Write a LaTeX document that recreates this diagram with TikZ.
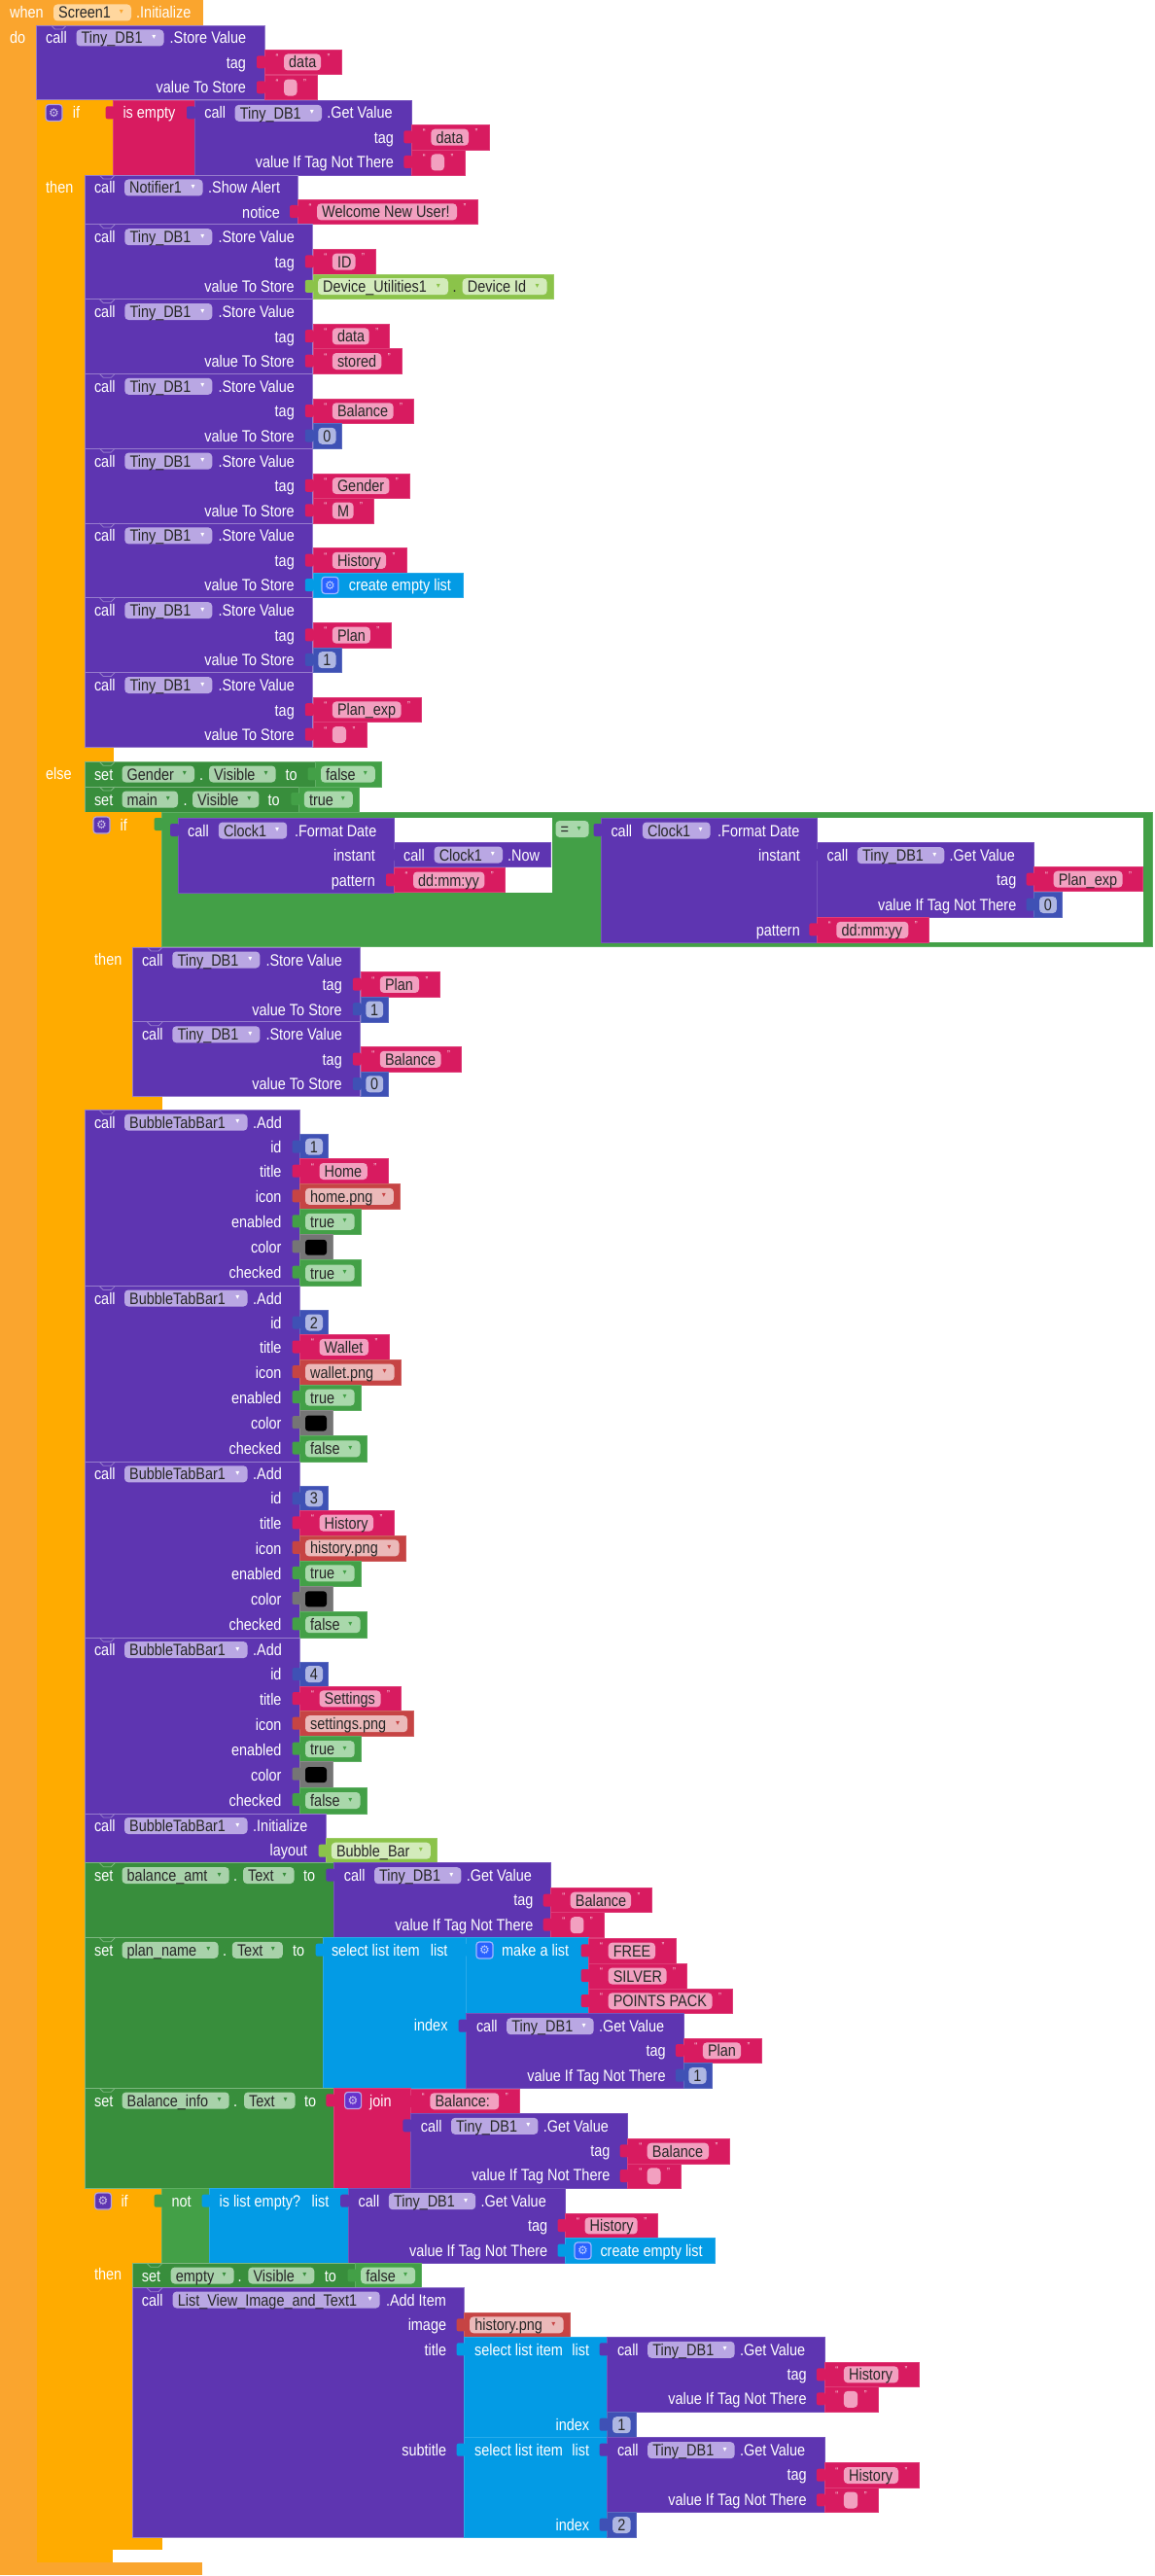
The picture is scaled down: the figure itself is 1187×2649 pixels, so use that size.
\documentclass[tikz,border=0pt]{standalone}
\usepackage{fontspec}
\setmainfont{Liberation Sans}[FakeStretch=0.86]
\newfontfamily\dvsans{DejaVu Sans}

\definecolor{evt}{HTML}{FAA52E}
\definecolor{scrf}{HTML}{FFD79E}
\definecolor{ctl}{HTML}{FFAB00}
\definecolor{cmp}{HTML}{5E35B1}
\definecolor{cmpf}{HTML}{B9A7E3}
\definecolor{txt}{HTML}{D81B60}
\definecolor{txtf}{HTML}{F2A0C0}
\definecolor{num}{HTML}{3F51B5}
\definecolor{numf}{HTML}{AEB6E2}
\definecolor{lgc}{HTML}{43A047}
\definecolor{lgcf}{HTML}{A9D8AB}
\definecolor{setg}{HTML}{388E3C}
\definecolor{setf}{HTML}{A8D2AA}
\definecolor{getg}{HTML}{8BC34A}
\definecolor{getf}{HTML}{D3EBBB}
\definecolor{lst}{HTML}{039BE5}
\definecolor{ast}{HTML}{C64444}
\definecolor{astf}{HTML}{EBB9B9}
\definecolor{clr}{HTML}{757575}
\definecolor{gearblue}{HTML}{2962FF}
\definecolor{gearpur}{HTML}{6633CC}

\newcommand{\fsz}{\fontsize{16.8}{20}\selectfont}
\tikzset{
  lbl/.style={text=white, font=\fsz, inner sep=0pt},
  fld/.style={text=black!85, font=\fsz, inner sep=0pt},
  arw/.style={font=\dvsans\fontsize{8}{8}\selectfont, inner sep=0pt},
  qt/.style={text=white!80!txt, font=\fontsize{10}{10}\selectfont, inner sep=0pt},
  gearc/.style={font=\dvsans\fontsize{12}{12}\selectfont, inner sep=0pt}
}

\newcommand{\blkS}[5]{%
  \filldraw[fill=#1, draw=white!35!#1, line width=0.8pt] (#2,#3) rectangle (#4,#5);
  \draw[white!35!#1, line width=0.8pt] ({#2+15},#3) -- ({#2+19},{#3+4}) -- ({#2+27},{#3+4}) -- ({#2+31},#3);}
\newcommand{\blkV}[5]{%
  \filldraw[fill=#1, draw=white!15!#1, line width=0.6pt] (#2,#3) rectangle (#4,#5);
  \fill[#1, rounded corners=2pt] ({#2-8},{#3+6}) rectangle ({#2+1},{#3+19});}
\newcommand{\labL}[3]{\node[lbl, anchor=base west] at (#1,{#2+6}) {#3};}
\newcommand{\labR}[3]{\node[lbl, anchor=base east] at (#1,{#2+6}) {#3};}
\newcommand{\fldB}[6]{%
  \fill[#1, rounded corners=4pt] (#3,{#5-8.5}) rectangle (#4,{#5+8.5});
  \node[fld, anchor=base west] at ({#3+5},{#5+6}) {#6};
  \node[arw, text=#2] at ({#4-10},{#5-0.5}) {▾};}
\newcommand{\txtB}[5]{%
  \blkV{txt}{#1}{#2}{#3}{#4}
  \node[qt] at ({#1+13},{#2+8}) {“};
  \node[qt] at ({#3-13},{#2+8}) {”};
  \fill[txtf, rounded corners=4pt] ({#1+20},{(#2+#4)/2-8.5}) rectangle ({#3-21},{(#2+#4)/2+8.5});
  \node[fld, anchor=base west] at ({#1+25},{(#2+#4)/2+6}) {#5};}
\newcommand{\numB}[5]{%
  \blkV{num}{#1}{#2}{#3}{#4}
  \fill[numf, rounded corners=4pt] ({#1+5.5},{(#2+#4)/2-8.5}) rectangle ({#3-5.5},{(#2+#4)/2+8.5});
  \node[fld, anchor=base] at ({(#1+#3)/2},{(#2+#4)/2+6}) {#5};}
\newcommand{\lgcB}[5]{\blkV{lgc}{#1}{#2}{#3}{#4}\fldB{lgcf}{lgc}{#1+5.5}{#3-6.5}{(#2+#4)/2}{#5}}
\newcommand{\astB}[5]{\blkV{ast}{#1}{#2}{#3}{#4}\fldB{astf}{ast}{#1+5.5}{#3-6.5}{(#2+#4)/2}{#5}}
\newcommand{\clrB}[4]{\blkV{clr}{#1}{#2}{#3}{#4}\fill[black, rounded corners=3pt] ({#1+5.5},{#2+5.5}) rectangle ({#1+27.5},{#4-5});}
\newcommand{\gearB}[3]{%
  \filldraw[fill=#1, draw=white!55!#1, line width=1.2pt, rounded corners=3pt] (#2,{#3-8.5}) rectangle ({#2+17},{#3+8.5});
  \node[gearc, text=white!70!#1] at ({#2+8.5},{#3}) {⚙};}
\newcommand{\storeB}[2]{%
  \blkS{cmp}{#1}{#2}{#1+234.5}{#2+76.8}
  \labL{#1+9.5}{#2+13}{call}
  \fldB{cmpf}{white}{#1+41}{#1+131}{#2+13}{Tiny\_DB1}
  \labL{#1+137}{#2+13}{.Store Value}
  \labR{#1+215.7}{#2+38.5}{tag}
  \labR{#1+215.7}{#2+64}{value To Store}}
\newcommand{\getB}[2]{%
  \blkV{cmp}{#1}{#2}{#1+223.3}{#2+77}
  \labL{#1+10.2}{#2+12.7}{call}
  \fldB{cmpf}{white}{#1+41.6}{#1+131}{#2+13}{Tiny\_DB1}
  \labL{#1+136.2}{#2+12.7}{.Get Value}
  \labR{#1+205.2}{#2+37.8}{tag}
  \labR{#1+205.2}{#2+63.3}{value If Tag Not There}}
\newcommand{\addB}[8]{%
  \blkS{cmp}{87.3}{#1}{308.5}{#1+180.8}
  \labL{96.8}{#1+12.5}{call}
  \fldB{cmpf}{white}{128}{254.5}{#1+12.5}{BubbleTabBar1}
  \labL{260}{#1+12.5}{.Add}
  \labR{289.7}{#1+37.5}{id}
  \labR{289.7}{#1+63}{title}
  \labR{289.7}{#1+89}{icon}
  \labR{289.7}{#1+115}{enabled}
  \labR{289.7}{#1+141}{color}
  \labR{289.7}{#1+167}{checked}
  \numB{308.5}{#1+25}{337.5}{#1+50}{#2}
  \txtB{308.5}{#1+50}{#4}{#1+75.6}{#3}
  \astB{308.5}{#1+75.6}{#6}{#1+101.6}{#5}
  \lgcB{308.5}{#1+101.6}{371.2}{#1+127.6}{true}
  \clrB{308.5}{#1+127.6}{341.8}{#1+154}
  \lgcB{308.5}{#1+154}{#8}{#1+180.8}{#7}}

\begin{document}
\begin{tikzpicture}[x=1pt,y=-1pt]
\useasboundingbox (0,0) rectangle (1187,2649);
\fill[white] (0,0) rectangle (1187,2649);

% when Screen1.Initialize
\fill[evt] (0,0) rectangle (209,26);
\fill[evt] (0,0) rectangle (37.5,2648.3);
\fill[evt] (0,2635) rectangle (208.2,2648.3);
\labL{10}{13}{when}
\fldB{scrf}{evt}{55}{135}{13}{Screen1}
\labL{140}{13}{.Initialize}
\labL{10}{38.5}{do}

\storeB{37.5}{26}
\txtB{272}{51.3}{351}{76.7}{data}
\txtB{272}{77.3}{326.5}{102.8}{}

% if / then / else
\fill[ctl] (37.5,102.8) rectangle (87.3,2635);
\fill[ctl] (37.5,102.8) rectangle (117,180);
\fill[ctl] (37.5,768.3) rectangle (117,783.3);
\fill[ctl] (37.5,2622.3) rectangle (116.3,2635);
\gearB{cmp}{47}{116}
\labL{74.6}{116}{if}
\labL{47}{192.7}{then}
\labL{47}{795}{else}

\blkV{txt}{116.7}{103.3}{200}{180}
\labL{126.3}{116}{is empty}
\getB{200}{103.3}
\txtB{423.3}{128.3}{503}{154}{data}
\txtB{423.3}{154}{478}{180}{}

\blkS{cmp}{87.3}{180}{306}{230.7}
\labL{96.8}{192.7}{call}
\fldB{cmpf}{white}{128}{208.6}{193}{Notifier1}
\labL{214}{192.7}{.Show Alert}
\labR{288}{218.3}{notice}
\txtB{306}{205}{491}{230.7}{Welcome New User!}

\storeB{87.3}{230.7}
\txtB{321.8}{256.4}{386.5}{281.9}{ID}
\blkV{getg}{321.8}{281.9}{569}{307.5}
\fldB{getf}{getg}{327}{461}{294.7}{Device\_Utilities1}
\node[fld, anchor=base] at (467.7,300.7) {.};
\fldB{getf}{getg}{475.7}{562.6}{294.7}{Device Id}

\storeB{87.3}{307.5}
\txtB{321.8}{333.2}{400.7}{358.7}{data}
\txtB{321.8}{358.7}{413.3}{384.3}{stored}

\storeB{87.3}{384.3}
\txtB{321.8}{410}{425.6}{435.5}{Balance}
\numB{321.8}{435.5}{351}{461.1}{0}

\storeB{87.3}{461.1}
\txtB{321.8}{486.8}{421.4}{512.3}{Gender}
\txtB{321.8}{512.3}{384.6}{537.9}{M}

\storeB{87.3}{537.9}
\txtB{321.8}{563.6}{418}{589.1}{History}
\blkV{lst}{321.8}{589.1}{476.5}{614.7}
\gearB{gearblue}{331}{601.9}
\labL{358.6}{601.9}{create empty list}

\storeB{87.3}{614.7}
\txtB{321.8}{640.4}{401.8}{665.9}{Plan}
\numB{321.8}{665.9}{351}{691.5}{1}

\storeB{87.3}{691.5}
\txtB{321.8}{717.2}{433.6}{742.7}{Plan\_exp}
\txtB{321.8}{742.7}{377}{768.3}{}

% else
\blkS{setg}{87.3}{783.3}{324.5}{809}
\labL{96.8}{796}{set}
\fldB{setf}{setg}{125.5}{200}{796}{Gender}
\labL{205}{796}{.}
\fldB{setf}{setg}{215}{283.6}{796}{Visible}
\labL{293.5}{796}{to}
\lgcB{324.5}{783.3}{392.3}{809}{false}

\blkS{setg}{87.3}{809}{307.3}{835}
\labL{96.8}{822}{set}
\fldB{setf}{setg}{125.5}{183}{822}{main}
\labL{188.5}{822}{.}
\fldB{setf}{setg}{198}{266.4}{822}{Visible}
\labL{275.5}{822}{to}
\lgcB{307.3}{809}{369.3}{835}{true}

\fill[ctl] (87.3,835) rectangle (136.3,1141.7);
\fill[ctl] (87.3,835) rectangle (166.5,974);
\fill[ctl] (87.3,1127.6) rectangle (166.5,1141.7);
\gearB{cmp}{96}{848.5}
\labL{123.4}{848.3}{if}
\labL{97}{986.3}{then}

\blkV{lgc}{166.5}{835}{1185}{973.3}
\fill[white] (183,841) rectangle (567.8,918.3);
\fill[white] (618.5,841) rectangle (1175.6,969.3);
\blkV{cmp}{183}{841}{405}{918.3}
\labL{193}{854}{call}
\fldB{cmpf}{white}{224.8}{295.2}{854}{Clock1}
\labL{302.8}{854}{.Format Date}
\labR{386}{879}{instant}
\labR{386}{905}{pattern}
\blkV{cmp}{405}{866.7}{566.2}{891.7}
\labL{415}{879}{call}
\fldB{cmpf}{white}{446.6}{517}{879}{Clock1}
\labL{522}{879}{.Now}
\txtB{405}{892.3}{519.3}{917.7}{dd:mm:yy}
\fldB{lgcf}{lgc}{571.5}{605.6}{852.5}{=}
\blkV{cmp}{618.5}{841}{840.3}{969.3}
\labL{628.3}{854}{call}
\fldB{cmpf}{white}{660.9}{730.5}{854}{Clock1}
\labL{738}{854}{.Format Date}
\labR{823}{879}{instant}
\labR{823}{956}{pattern}
\getB{840.3}{866.7}
\txtB{1063.6}{891.7}{1175.6}{916.7}{Plan\_exp}
\numB{1063.6}{917.7}{1092.4}{943.3}{0}
\txtB{840.3}{943.3}{955.3}{969.3}{dd:mm:yy}

\storeB{136.3}{974}
\txtB{370.8}{999.7}{452}{1025.2}{Plan}
\numB{370.8}{1025.2}{399.7}{1050.8}{1}
\storeB{136.3}{1050.8}
\txtB{370.8}{1076.5}{474.6}{1102}{Balance}
\numB{370.8}{1102}{399.7}{1127.6}{0}

% tab bar
\addB{1141.7}{1}{Home}{398.8}{home.png}{411.4}{true}{371.2}
\addB{1322.5}{2}{Wallet}{400}{wallet.png}{412.2}{false}{377}
\addB{1503.3}{3}{History}{405}{history.png}{417}{false}{377}
\addB{1684.1}{4}{Settings}{412.6}{settings.png}{425.6}{false}{377}

\blkS{cmp}{87.3}{1864.9}{335.7}{1915.7}
\labL{96.8}{1877.5}{call}
\fldB{cmpf}{white}{128}{254.5}{1877.5}{BubbleTabBar1}
\labL{260}{1877.5}{.Initialize}
\labR{316.3}{1902.3}{layout}
\blkV{getg}{335.7}{1890.7}{449}{1915.7}
\fldB{getf}{getg}{340.8}{442.9}{1903.2}{Bubble\_Bar}

\blkS{setg}{87.3}{1915.7}{343.4}{1992.7}
\labL{97}{1928.5}{set}
\fldB{setf}{setg}{125.5}{235.7}{1928.5}{balance\_amt}
\labL{240}{1928.5}{.}
\fldB{setf}{setg}{250}{302.6}{1928.5}{Text}
\labL{312}{1928.5}{to}
\getB{343.4}{1915.7}
\txtB{566.7}{1941.7}{670}{1966.7}{Balance}
\txtB{566.7}{1966.7}{621.4}{1992.7}{}

\blkS{setg}{87.3}{1992.7}{332.7}{2147.3}
\labL{97}{2005.3}{set}
\fldB{setf}{setg}{125.5}{224.5}{2005.3}{plan\_name}
\labL{229}{2005.3}{.}
\fldB{setf}{setg}{238.8}{290.8}{2005.3}{Text}
\labL{301}{2005.3}{to}
\blkV{lst}{332.7}{1992.7}{479.6}{2147.3}
\labL{340.8}{2005.3}{select list item}
\labR{460.7}{2005.3}{list}
\labR{460.7}{2082.7}{index}
\blkV{lst}{479.6}{1992.7}{605.6}{2070.7}
\gearB{gearblue}{490}{2005.5}
\labL{516}{2005.3}{make a list}
\txtB{605.6}{1993.3}{695}{2019}{FREE}
\txtB{605.6}{2019}{706.6}{2045}{SILVER}
\txtB{605.6}{2045}{753.6}{2070.7}{POINTS PACK}
\getB{479.6}{2070.7}
\txtB{702.9}{2096}{783}{2121.7}{Plan}
\numB{702.9}{2121.7}{732}{2147.3}{1}

\blkS{setg}{87.3}{2147.3}{343.4}{2250.7}
\labL{97}{2160}{set}
\fldB{setf}{setg}{125.5}{235.7}{2160}{Balance\_info}
\labL{240}{2160}{.}
\fldB{setf}{setg}{251}{303.6}{2160}{Text}
\labL{312.8}{2160}{to}
\blkV{txt}{343.4}{2147.3}{422.4}{2250.7}
\gearB{gearpur}{354.6}{2160}
\labL{380}{2160}{join}
\txtB{422.4}{2148.3}{534.2}{2173.3}{Balance:}
\getB{422.4}{2173.3}
\txtB{645.7}{2199.3}{750}{2225}{Balance}
\txtB{645.7}{2225}{700.5}{2250.7}{}

% if not is list empty
\fill[ctl] (87.3,2250.7) rectangle (136,2622.3);
\fill[ctl] (87.3,2250.7) rectangle (166.6,2327.3);
\fill[ctl] (87.3,2609.3) rectangle (166.6,2622.3);
\gearB{cmp}{97.5}{2263.5}
\labL{124.3}{2263.3}{if}
\labL{96.8}{2338.5}{then}
\blkV{lgc}{166.6}{2250.7}{215.6}{2327.3}
\labL{176.4}{2263.3}{not}
\blkV{lst}{215.6}{2250.7}{358.2}{2327.3}
\labL{225.4}{2263.3}{is list empty?}
\labR{338.6}{2263.3}{list}
\getB{358.2}{2250.7}
\txtB{581.5}{2276}{676.7}{2301.7}{History}
\blkV{lst}{581.5}{2301.7}{734.8}{2327.3}
\gearB{gearblue}{591}{2314.5}
\labL{617.3}{2314.5}{create empty list}

\blkS{setg}{136}{2327.3}{365.6}{2352.7}
\labL{145.7}{2340}{set}
\fldB{setf}{setg}{175.7}{240.7}{2340}{empty}
\labL{244.5}{2340}{.}
\fldB{setf}{setg}{255.4}{323.3}{2340}{Visible}
\labL{333.7}{2340}{to}
\lgcB{365.6}{2327.3}{433.6}{2352.7}{false}

\blkS{cmp}{136}{2352.7}{477.6}{2609.3}
\labL{145.7}{2365}{call}
\fldB{cmpf}{white}{177.6}{390.7}{2365}{List\_View\_Image\_and\_Text1}
\labL{396.8}{2365}{.Add Item}
\labR{459.3}{2390.7}{image}
\labR{459.3}{2416}{title}
\labR{459.3}{2519}{subtitle}
\astB{477.6}{2378.3}{586}{2403.3}{history.png}
\blkV{lst}{477.6}{2403.3}{624.6}{2506.7}
\labL{488}{2416}{select list item}
\labR{606.3}{2416}{list}
\labR{606.3}{2493.3}{index}
\getB{624.6}{2403.3}
\txtB{847.9}{2429.3}{945}{2454.3}{History}
\txtB{847.9}{2454.3}{903.2}{2480.3}{}
\numB{624.6}{2480.7}{654}{2506.7}{1}
\blkV{lst}{477.6}{2506.7}{624.6}{2609.3}
\labL{488}{2519}{select list item}
\labR{606.3}{2519}{list}
\labR{606.3}{2596}{index}
\getB{624.6}{2506.7}
\txtB{847.9}{2532.7}{945}{2558.3}{History}
\txtB{847.9}{2558.3}{903.2}{2583.7}{}
\numB{624.6}{2583.7}{654}{2609.3}{2}

\end{tikzpicture}
\end{document}
